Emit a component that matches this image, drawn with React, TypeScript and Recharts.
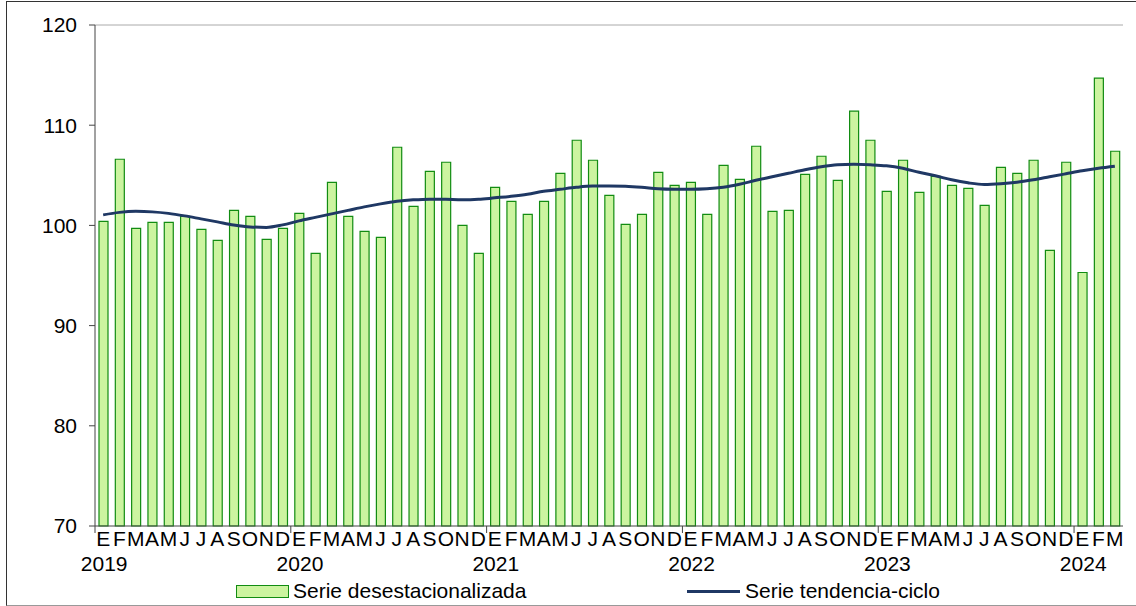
import { ComposedChart, Bar, Line, XAxis, YAxis, ReferenceLine } from 'recharts';

// Serie mensual enero 2019 - marzo 2024
const monthLetters = ['E', 'F', 'M', 'A', 'M', 'J', 'J', 'A', 'S', 'O', 'N', 'D'];
const startYear = 2019;

const desestacionalizada = [
  100.4, 106.6, 99.7, 100.3, 100.3, 100.9, 99.6, 98.5, 101.5, 100.9, 98.6, 99.7,
  101.2, 97.2, 104.3, 100.9, 99.4, 98.8, 107.8, 101.9, 105.4, 106.3, 100.0, 97.2,
  103.8, 102.4, 101.1, 102.4, 105.2, 108.5, 106.5, 103.0, 100.1, 101.1, 105.3, 104.0,
  104.3, 101.1, 106.0, 104.6, 107.9, 101.4, 101.5, 105.1, 106.9, 104.5, 111.4, 108.5,
  103.4, 106.5, 103.3, 104.9, 104.0, 103.7, 102.0, 105.8, 105.2, 106.5, 97.5, 106.3,
  95.3, 114.7, 107.4,
];

const tendenciaCiclo = [
  101.05, 101.3, 101.4, 101.35, 101.2, 100.95, 100.65, 100.35, 100.05, 99.85, 99.8, 100.05,
  100.45, 100.8, 101.15, 101.5, 101.85, 102.15, 102.4, 102.55, 102.62, 102.6, 102.55, 102.6,
  102.75, 102.9, 103.1, 103.4, 103.6, 103.8, 103.92, 103.93, 103.9, 103.8, 103.65, 103.6,
  103.6, 103.65, 103.8, 104.1, 104.5, 104.85, 105.2, 105.55, 105.85, 106.05, 106.1, 106.05,
  105.95, 105.7, 105.3, 104.95, 104.55, 104.25, 104.08, 104.15, 104.3, 104.55, 104.85, 105.15,
  105.45, 105.7, 105.9,
];

const yTicks = [70, 80, 90, 100, 110, 120];

const data = desestacionalizada.map((v, i) => ({
  idx: i,
  mes: monthLetters[i % 12],
  anio: startYear + Math.floor(i / 12),
  desest: v,
  tendencia: tendenciaCiclo[i],
}));

const FONT = '"Liberation Sans", Arial, sans-serif';
const FS = 21;
const PLOT_LEFT = 95;
const PLOT_RIGHT = 1123;
const STEP = (PLOT_RIGHT - PLOT_LEFT) / data.length;

function MonthTick(props: any) {
  const { x, y, payload } = props;
  const row = data[payload.value];
  if (!row) return null;
  const isJan = row.idx % 12 === 0;
  return (
    <g>
      <text x={x} y={y + 20} textAnchor="middle" fontSize={FS} fontFamily={FONT} fill="#000">
        {row.mes}
      </text>
      {isJan && (
        <>
          <line x1={x - STEP / 2} x2={x - STEP / 2} y1={y} y2={y + 7} stroke="#444" strokeWidth={1} />
          <text x={x + 1} y={y + 45} textAnchor="middle" fontSize={FS} fontFamily={FONT} fill="#000">
            {row.anio}
          </text>
        </>
      )}
    </g>
  );
}

export default function App() {
  return (
    <div style={{ position: 'absolute', left: 0, top: 0, width: 1136, height: 606, background: '#fff', overflow: 'hidden' }}>
      {/* marco exterior */}
      <div
        style={{
          position: 'absolute',
          left: 6,
          top: 1,
          width: 1200,
          height: 603,
          borderTop: '1.5px solid #333',
          borderLeft: '1.5px solid #333',
          borderBottom: '1.5px solid #999',
        }}
      />
      <div style={{ position: 'absolute', left: 0, top: 0 }}>
        <ComposedChart width={1136} height={606} data={data} margin={{ top: 25, right: 13, left: 0, bottom: 0 }} barCategoryGap={0}>
          <XAxis
            dataKey="idx"
            type="category"
            interval={0}
            height={80}
            tickSize={0}
            tickMargin={0}
            tickLine={false}
            axisLine={{ stroke: '#444', strokeWidth: 1 }}
            tick={<MonthTick />}
          />
          <YAxis
            yAxisId="left"
            width={95}
            domain={[70, 120]}
            ticks={yTicks}
            interval={0}
            tickSize={6}
            tickMargin={12}
            tickLine={{ stroke: '#444' }}
            axisLine={{ stroke: '#444', strokeWidth: 1 }}
            tick={{ fontSize: FS, fontFamily: FONT, fill: '#000' }}
          />
          <YAxis
            yAxisId="right"
            orientation="right"
            width={0}
            domain={[70, 120]}
            tick={false}
            tickLine={false}
            axisLine={{ stroke: '#aaa' }}
          />
          <ReferenceLine yAxisId="left" y={120} stroke="#aaa" />
          <Bar
            yAxisId="left"
            dataKey="desest"
            barSize={9}
            fill="#ccf4a0"
            stroke="#128c12"
            strokeWidth={1.2}
            isAnimationActive={false}
          />
          <Line
            yAxisId="left"
            type="monotone"
            dataKey="tendencia"
            stroke="#1f3864"
            strokeWidth={3}
            dot={false}
            activeDot={false}
            isAnimationActive={false}
          />
        </ComposedChart>
      </div>
      {/* leyenda */}
      <div style={{ position: 'absolute', left: 236, top: 585, width: 51, height: 11, background: '#ccf4a0', border: '1px solid #128c12' }} />
      <div style={{ position: 'absolute', left: 293, top: 578, fontSize: FS, fontFamily: FONT, color: '#000', lineHeight: '26px' }}>
        Serie desestacionalizada
      </div>
      <div style={{ position: 'absolute', left: 687, top: 590, width: 53, height: 3, background: '#1f3864' }} />
      <div style={{ position: 'absolute', left: 745, top: 578, fontSize: FS, fontFamily: FONT, color: '#000', lineHeight: '26px' }}>
        Serie tendencia-ciclo
      </div>
    </div>
  );
}
